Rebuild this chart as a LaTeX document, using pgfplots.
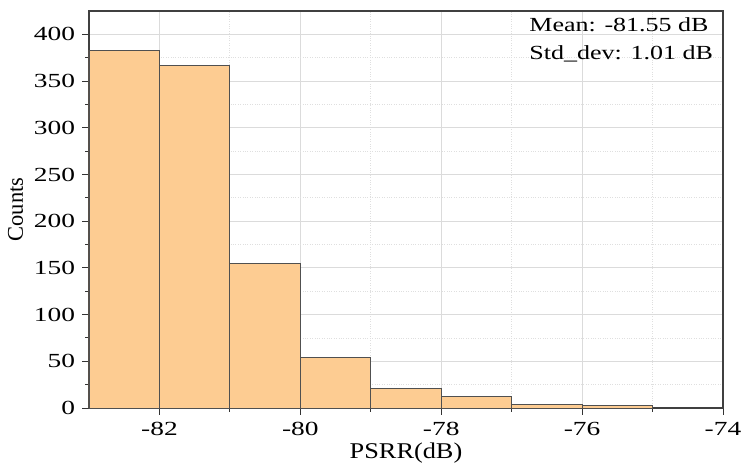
\documentclass[border=0pt]{standalone}
\usepackage{fontspec}
\setmainfont{Liberation Serif}
\newfontfamily\tickfont{Liberation Serif}[FakeStretch=1.37]
\newfontfamily\notefont{Liberation Serif}[FakeStretch=1.3]
\newfontfamily\labfont{Liberation Serif}[FakeStretch=1.17]
\usepackage{pgfplots}
\pgfplotsset{compat=1.18}
\definecolor{barfill}{RGB}{253,204,146}
\definecolor{baredge}{RGB}{80,80,80}
\begin{document}
\fontsize{19}{23}\selectfont
\begin{tikzpicture}
\useasboundingbox (-89pt,-58pt) rectangle (653pt,408pt);
\begin{axis}[
  at={(0pt,0pt)}, anchor=south west,
  scale only axis, width=634pt, height=397pt,
  xmin=-83, xmax=-74, ymin=0, ymax=425,
  xtick={-82,-80,-78,-76,-74},
  ytick={0,50,...,400},
  minor x tick num=1, minor y tick num=1,
  tick align=outside, xtick pos=bottom, ytick pos=left,
  major tick length=6.5pt, minor tick length=3.5pt,
  every tick/.style={black!80, line width=0.9pt},
  grid=both,
  major grid style={gray!28, line width=0.8pt},
  minor grid style={gray!25, dotted, line width=0.8pt},
  axis line style={black!75, line width=1.1pt},
  /pgf/number format/assume math mode=true,
  ticklabel style={font=\tickfont\fontsize{20}{23}\selectfont},
  xlabel={PSRR(dB)}, ylabel={Counts},
  xlabel style={font=\labfont\fontsize{22.5}{26}\selectfont, yshift=6pt},
  ylabel style={font=\rmfamily\fontsize{22.5}{26}\selectfont, yshift=-2pt},
  xticklabel style={yshift=-1pt},
  yticklabel style={xshift=-1pt},
]
\addplot[ybar, bar width=1, bar shift=0pt, fill=barfill, draw=baredge, line width=0.9pt]
  coordinates {(-82.5,383) (-81.5,367) (-80.5,155) (-79.5,54) (-78.5,21) (-77.5,12) (-76.5,3.5) (-75.5,2.5)};
\node[anchor=north west, align=left, inner sep=0pt, font=\notefont\fontsize{20}{28}\selectfont]
  at (axis cs:-76.75,418) {Mean: -81.55 dB\\Std\_dev: 1.01 dB};
\end{axis}
\end{tikzpicture}
\end{document}
